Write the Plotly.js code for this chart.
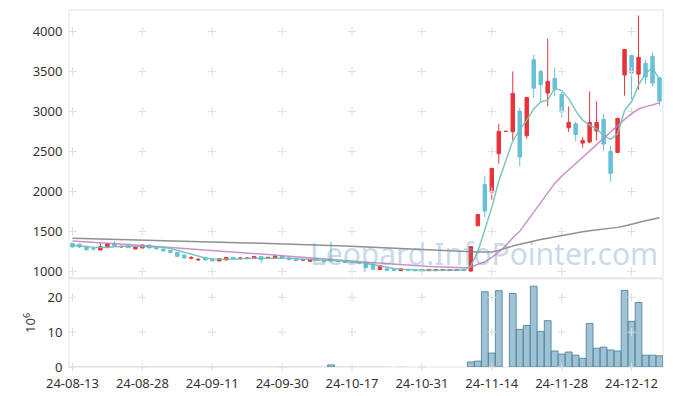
<!DOCTYPE html>
<html><head><meta charset="utf-8">
<script src="https://cdn.plot.ly/plotly-3.0.1.min.js"></script>
<style>html,body{margin:0;padding:0;background:#fff}</style>
</head><body><div id="chart" style="width:673px;height:396px"></div>
<script>
const dates = [
"24-08-13","24-08-14","24-08-16","24-08-19","24-08-20","24-08-21","24-08-22","24-08-23","24-08-26","24-08-27",
"24-08-28","24-08-29","24-08-30","24-09-02","24-09-03","24-09-04","24-09-05","24-09-06","24-09-09","24-09-10",
"24-09-11","24-09-12","24-09-13","24-09-19","24-09-20","24-09-23","24-09-24","24-09-25","24-09-26","24-09-27",
"24-09-30","24-10-02","24-10-04","24-10-07","24-10-08","24-10-10","24-10-11","24-10-14","24-10-15","24-10-16",
"24-10-17","24-10-18","24-10-21","24-10-22","24-10-23","24-10-24","24-10-25","24-10-28","24-10-29","24-10-30",
"24-10-31","24-11-01","24-11-04","24-11-05","24-11-06","24-11-07","24-11-08","24-11-11","24-11-12","24-11-13",
"24-11-14","24-11-15","24-11-18","24-11-19","24-11-20","24-11-21","24-11-22","24-11-25","24-11-26","24-11-27",
"24-11-28","24-11-29","24-12-02","24-12-03","24-12-04","24-12-05","24-12-06","24-12-09","24-12-10","24-12-11",
"24-12-12","24-12-13","24-12-16","24-12-17","24-12-18"];

const open = [
1350,1340,1305,1285,1267,1304,1350,1305,1321,1279,
1292,1329,1308,1280,1262,1237,1204,1165,1143,1175,
1154,1130,1142,1172,1158,1160,1162,1187,1162,1162,
1192,1167,1160,1140,1125,1160,1142,1154,1133,1129,
1118,1121,1100,1083,1021,1033,1025,1008,1025,1021,
1021,1008,1008,1010,1010,1010,1025,1004,1570,2087,
1992,2471,2750,2746,3004,2696,3646,3500,3229,3412,
3212,2796,2846,2604,2617,2754,2900,2500,2487,3454,
3700,3466,3600,3687,3421];
const high = [
1355,1345,1310,1295,1350,1355,1379,1322,1325,1310,
1332,1333,1312,1284,1265,1240,1208,1190,1165,1178,
1158,1162,1178,1175,1183,1172,1190,1190,1179,1196,
1196,1170,1163,1150,1153,1163,1145,1371,1136,1132,
1121,1124,1103,1086,1078,1036,1028,1036,1028,1024,
1024,1024,1024,1024,1024,1024,1028,1315,1715,2196,
2290,2846,2750,3500,3046,3180,3709,3520,3909,3546,
3240,3062,2870,2679,3250,3125,2971,2571,2920,3780,
3710,4200,3640,3737,3430];
const low = [
1300,1290,1265,1258,1262,1300,1310,1295,1290,1275,
1290,1288,1275,1250,1225,1185,1160,1150,1130,1138,
1125,1128,1140,1150,1142,1155,1160,1108,1160,1160,
1160,1143,1134,1130,1122,1134,1114,1125,1118,1109,
1107,1093,1043,1022,1018,1009,1009,1005,1005,1005,
1005,1005,1006,1006,1006,1006,1007,995,1565,1679,
1896,2346,2750,2637,2316,2660,3171,3104,3062,3191,
2921,2742,2629,2546,2600,2637,2508,2121,2480,3196,
3146,3271,3340,3312,3075];
const close = [
1305,1305,1270,1280,1308,1350,1317,1312,1296,1308,
1329,1292,1280,1255,1237,1187,1167,1172,1150,1142,
1130,1158,1175,1158,1166,1168,1187,1146,1175,1192,
1162,1146,1137,1147,1150,1137,1117,1129,1123,1112,
1110,1096,1046,1025,1075,1012,1012,1033,1008,1008,
1008,1021,1021,1021,1021,1021,1010,1310,1710,1754,
2287,2750,2750,3225,2429,3175,3291,3334,3375,3275,
2992,2862,2712,2637,2862,2862,2592,2225,2912,3775,
3479,3675,3429,3354,3129];
const volume = [
0.05,0.04,0.05,0.04,0.05,0.06,0.05,0.04,0.04,0.04,
0.05,0.04,0.04,0.04,0.05,0.06,0.05,0.04,0.04,0.04,
0.04,0.04,0.05,0.04,0.04,0.04,0.05,0.05,0.04,0.05,
0.04,0.04,0.04,0.04,0.04,0.04,0.04,0.6,0.05,0.04,
0.04,0.04,0.05,0.06,0.06,0.04,0.03,0.04,0.03,0.03,
0.03,0.03,0.03,0.03,0.03,0.03,0.03,1.45,1.7,21.6,
4.0,21.9,0,21.1,10.8,11.9,23.2,10.2,13.3,4.6,
3.7,4.3,3.4,2.5,12.5,5.4,5.7,4.9,4.6,22.0,
13.1,18.5,3.4,3.4,3.2];
const ma5 = [
1325,1320,1312,1300,1295,1298,1308,1315,1318,1315,
1312,1313,1310,1300,1285,1262,1238,1213,1187,1168,
1155,1150,1150,1155,1160,1162,1165,1165,1166,1170,
1170,1165,1158,1152,1146,1143,1140,1137,1134,1128,
1122,1115,1100,1083,1068,1050,1035,1025,1020,1016,
1014,1014,1014,1015,1016,1016,1016,1065,1250,1520,
1800,2130,2390,2630,2770,2890,3030,3120,3140,3290,
3260,3160,3010,2890,2830,2780,2700,2650,2720,3010,
3120,3330,3480,3540,3400];
const ma20 = [
1379,1375,1371,1365,1358,1352,1346,1341,1337,1331,
1325,1319,1312,1306,1300,1294,1287,1281,1276,1270,
1265,1259,1254,1247,1240,1232,1225,1217,1210,1203,
1196,1190,1184,1178,1173,1168,1164,1158,1150,1141,
1131,1121,1114,1107,1100,1093,1087,1082,1077,1072,
1067,1062,1058,1054,1050,1048,1046,1055,1085,1120,
1175,1240,1320,1420,1500,1620,1740,1870,1980,2100,
2190,2270,2350,2420,2510,2590,2670,2740,2820,2900,
2970,3030,3060,3080,3110];
const ma60 = [
1415,1413,1411,1408,1406,1404,1402,1399,1397,1395,
1393,1390,1388,1386,1384,1381,1379,1376,1373,1371,
1368,1366,1363,1361,1358,1356,1353,1351,1348,1346,
1343,1340,1338,1335,1332,1330,1327,1324,1320,1316,
1312,1308,1304,1299,1295,1290,1286,1281,1277,1272,
1268,1263,1259,1255,1251,1248,1246,1243,1242,1242,
1243,1260,1290,1318,1340,1362,1380,1398,1415,1432,
1450,1466,1482,1496,1508,1518,1528,1538,1550,1568,
1592,1612,1632,1652,1670];
const xTickIdx = [0,10,20,30,40,50,60,70,80];
const priceTicks = [1000,1500,2000,2500,3000,3500,4000];
const volTicks = [0,10,20];
const watermark = "Leopard.InfoPointer.com";

const tickDates = xTickIdx.map(i => dates[i]);
const crossP = {x:[], y:[]}, crossV = {x:[], y:[]};
tickDates.forEach(d => { priceTicks.forEach(v => {crossP.x.push(d); crossP.y.push(v);});
                          volTicks.forEach(v => {crossV.x.push(d); crossV.y.push(v);}); });
const crossStyle = {symbol:'cross-thin', size:6, line:{color:'#dedede', width:1}, color:'#dedede'};
const barLineW = volume.map(v => v < 0.3 ? 0 : 1);

const traces = [
 {type:'candlestick', x:dates, open:open, high:high, low:low, close:close, xaxis:'x', yaxis:'y',
  increasing:{line:{color:'#e8333a', width:1}, fillcolor:'#e8333a'},
  decreasing:{line:{color:'#66c0d9', width:1}, fillcolor:'#66c0d9'},
  whiskerwidth:0, hoverinfo:'skip'},
 {type:'scatter', mode:'markers', x:crossP.x, y:crossP.y, xaxis:'x', yaxis:'y', marker:crossStyle, hoverinfo:'skip', cliponaxis:false},
 {type:'scatter', mode:'markers', x:crossV.x, y:crossV.y, xaxis:'x', yaxis:'y2', marker:crossStyle, hoverinfo:'skip', cliponaxis:false},
 {type:'scatter', mode:'lines', x:dates, y:ma60, xaxis:'x', yaxis:'y', line:{color:'rgba(125,125,125,0.85)', width:1.5}, hoverinfo:'skip'},
 {type:'scatter', mode:'lines', x:dates, y:ma20, xaxis:'x', yaxis:'y', line:{color:'rgba(195,125,195,0.85)', width:1.5}, hoverinfo:'skip'},
 {type:'scatter', mode:'lines', x:dates, y:ma5, xaxis:'x', yaxis:'y', line:{color:'rgba(110,192,182,0.9)', width:1.5}, hoverinfo:'skip'},
 {type:'bar', x:dates, y:volume, xaxis:'x', yaxis:'y2', marker:{color:'rgba(120,168,192,0.7)', line:{color:'rgba(70,130,160,0.85)', width:barLineW}}, hoverinfo:'skip'}
];

const fnt = {family:'Noto Sans, DejaVu Sans, sans-serif', size:13, color:'#333'};
const layout = {
 width:673, height:396, margin:{l:69, r:10, t:10, b:29},
 paper_bgcolor:'#fff', plot_bgcolor:'#fff', showlegend:false, bargap:0.03,
 font:fnt,
 xaxis:{type:'category', categoryorder:'array', categoryarray:dates, anchor:'y2', range:[-0.5, dates.length-0.5],
        showgrid:false, zeroline:false, showline:false,
        rangeslider:{visible:false}, tickmode:'array', tickvals:tickDates, ticktext:tickDates,
        ticks:'outside', ticklen:4, tickcolor:'rgba(0,0,0,0)', tickfont:fnt, tickangle:0},
 yaxis:{domain:[0.25,1], range:[920,4268], showgrid:false, zeroline:false, showline:false,
        tickmode:'array', tickvals:priceTicks, ticks:'outside', ticklen:3, tickcolor:'rgba(0,0,0,0)', tickfont:fnt},
 yaxis2:{domain:[0,0.247], range:[0,25.3], showgrid:false, zeroline:false, showline:false,
        tickmode:'array', tickvals:volTicks, ticks:'outside', ticklen:3, tickcolor:'rgba(0,0,0,0)', tickfont:fnt,
        title:{text:'10<sup>6</sup>', font:fnt, standoff:8}},
 shapes:[
  {type:'rect', xref:'x domain', yref:'y domain', x0:0, x1:1, y0:0, y1:1, line:{color:'#e2e2e2', width:1}, layer:'below'},
  {type:'rect', xref:'x domain', yref:'y2 domain', x0:0, x1:1, y0:0, y1:1, line:{color:'#e2e2e2', width:1}, layer:'below'}
 ],
 annotations:[{xref:'paper', yref:'paper', x:0.699, y:0.319, xanchor:'center', yanchor:'middle', showarrow:false,
   text:watermark, font:{family:'Noto Sans, DejaVu Sans, sans-serif', size:30, color:'rgba(110,158,192,0.38)'}}]
};
Plotly.newPlot('chart', traces, layout, {displayModeBar:false, staticPlot:true});
</script></body></html>
